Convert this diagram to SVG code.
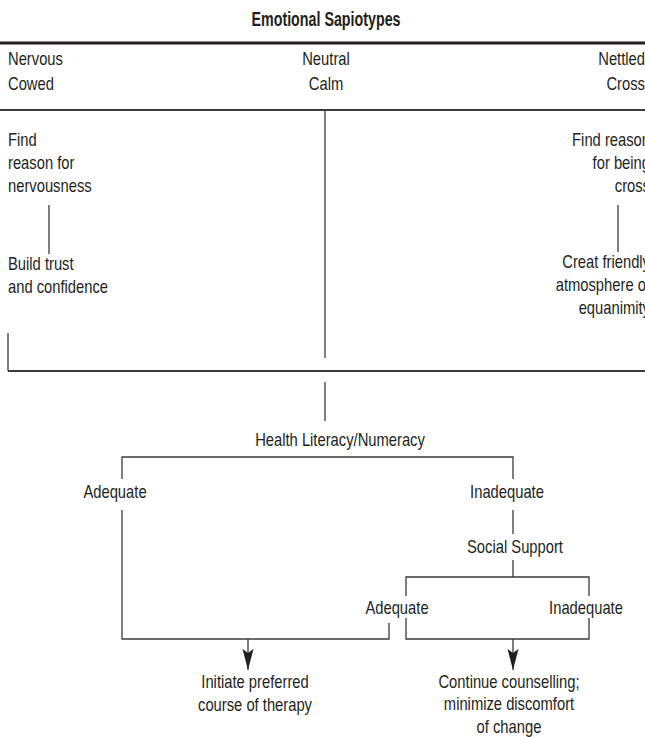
<svg xmlns="http://www.w3.org/2000/svg" width="645" height="737" viewBox="0 0 645 737">
<style>
  .t { font-family: "Liberation Sans", Arial, sans-serif; font-size: 19px; fill: #231f20; }
  .title { font-family: "Liberation Sans", Arial, sans-serif; font-size: 21px; font-weight: bold; fill: #231f20; }
  .m { text-anchor: middle; }
  .e { text-anchor: end; }
  .ln { stroke: #3a3a3a; stroke-width: 1.3; fill: none; }
  .rule { stroke: #3a3a3a; stroke-width: 2; fill: none; }
</style>
<defs>
  <marker id="ah" markerUnits="userSpaceOnUse" markerWidth="22" markerHeight="12" refX="21" refY="6" orient="auto" viewBox="0 0 22 12">
    <path d="M0,0.5 L4,6 L0,11.5 L21,6 Z" fill="#231f20"/>
  </marker>
</defs>
<rect width="645" height="737" fill="#ffffff"/>

<g id="title"><text class="title m" transform="translate(326,26) scale(0.68,1)">Emotional Sapiotypes</text></g>

<g id="rules">
  <line x1="0" y1="43" x2="645" y2="43" stroke="#231f20" stroke-width="3"/>
  <line class="rule" x1="0" y1="110" x2="645" y2="110"/>
  <line class="rule" x1="8" y1="371" x2="645" y2="371"/>
</g>

<g id="nervous"><text class="t" transform="translate(8,65) scale(0.777,1)"><tspan x="0">Nervous</tspan><tspan x="0" dy="25">Cowed</tspan></text></g>
<g id="neutral"><text class="t m" transform="translate(326,65) scale(0.777,1)"><tspan x="0">Neutral</tspan><tspan x="0" dy="25">Calm</tspan></text></g>
<g id="nettled"><text class="t e" transform="translate(645,65) scale(0.777,1)"><tspan x="0">Nettled</tspan><tspan x="0" dy="25">Cross</tspan></text></g>

<g id="find-nervous"><text class="t" transform="translate(8,146) scale(0.777,1)"><tspan x="0">Find</tspan><tspan x="0" dy="23">reason for</tspan><tspan x="0" dy="23">nervousness</tspan></text></g>
<g id="build-trust"><text class="t" transform="translate(8,270) scale(0.777,1)"><tspan x="0">Build trust</tspan><tspan x="0" dy="23">and confidence</tspan></text></g>
<g id="find-cross"><text class="t e" transform="translate(650,146) scale(0.777,1)"><tspan x="0">Find reason</tspan><tspan x="0" dy="23">for being</tspan><tspan x="0" dy="23">cross</tspan></text></g>
<g id="friendly"><text class="t e" transform="translate(650,268) scale(0.777,1)"><tspan x="0">Creat friendly</tspan><tspan x="0" dy="23">atmosphere of</tspan><tspan x="0" dy="23">equanimity</tspan></text></g>

<g id="health-literacy"><text class="t m" transform="translate(340,446) scale(0.777,1)">Health Literacy/Numeracy</text></g>
<g id="hl-adequate"><text class="t m" transform="translate(115,498) scale(0.777,1)">Adequate</text></g>
<g id="hl-inadequate"><text class="t m" transform="translate(507,498) scale(0.777,1)">Inadequate</text></g>
<g id="social-support"><text class="t m" transform="translate(515,553) scale(0.777,1)">Social Support</text></g>
<g id="ss-adequate"><text class="t m" transform="translate(397,614) scale(0.777,1)">Adequate</text></g>
<g id="ss-inadequate"><text class="t m" transform="translate(586,614) scale(0.777,1)">Inadequate</text></g>
<g id="initiate"><text class="t m" transform="translate(255,688) scale(0.777,1)"><tspan x="0">Initiate preferred</tspan><tspan x="0" dy="23">course of therapy</tspan></text></g>
<g id="continue"><text class="t m" transform="translate(509,688) scale(0.777,1)"><tspan x="0">Continue counselling;</tspan><tspan x="0" dy="22.5">minimize discomfort</tspan><tspan x="0" dy="22.5">of change</tspan></text></g>

<g id="connectors">
  <line class="ln" x1="325" y1="110" x2="325" y2="358"/>
  <line class="ln" x1="49" y1="205" x2="49" y2="254"/>
  <line class="ln" x1="618" y1="205" x2="618" y2="252"/>
  <line class="ln" x1="8" y1="333" x2="8" y2="371"/>
  <line class="ln" x1="325" y1="382" x2="325" y2="421"/>
  <polyline class="ln" points="122,479 122,457 513,457 513,479"/>
  <polyline class="ln" points="122,510 122,639 389,639 389,623"/>
  <line class="ln" x1="513" y1="510" x2="513" y2="534"/>
  <line class="ln" x1="513" y1="560" x2="513" y2="577"/>
  <polyline class="ln" points="406,596 406,577 589,577 589,596"/>
  <polyline class="ln" points="406,618 406,639 589,639 589,618"/>
  <line class="ln" x1="248" y1="639" x2="248" y2="670" marker-end="url(#ah)"/>
  <line class="ln" x1="513" y1="639" x2="513" y2="670" marker-end="url(#ah)"/>
</g>
</svg>
